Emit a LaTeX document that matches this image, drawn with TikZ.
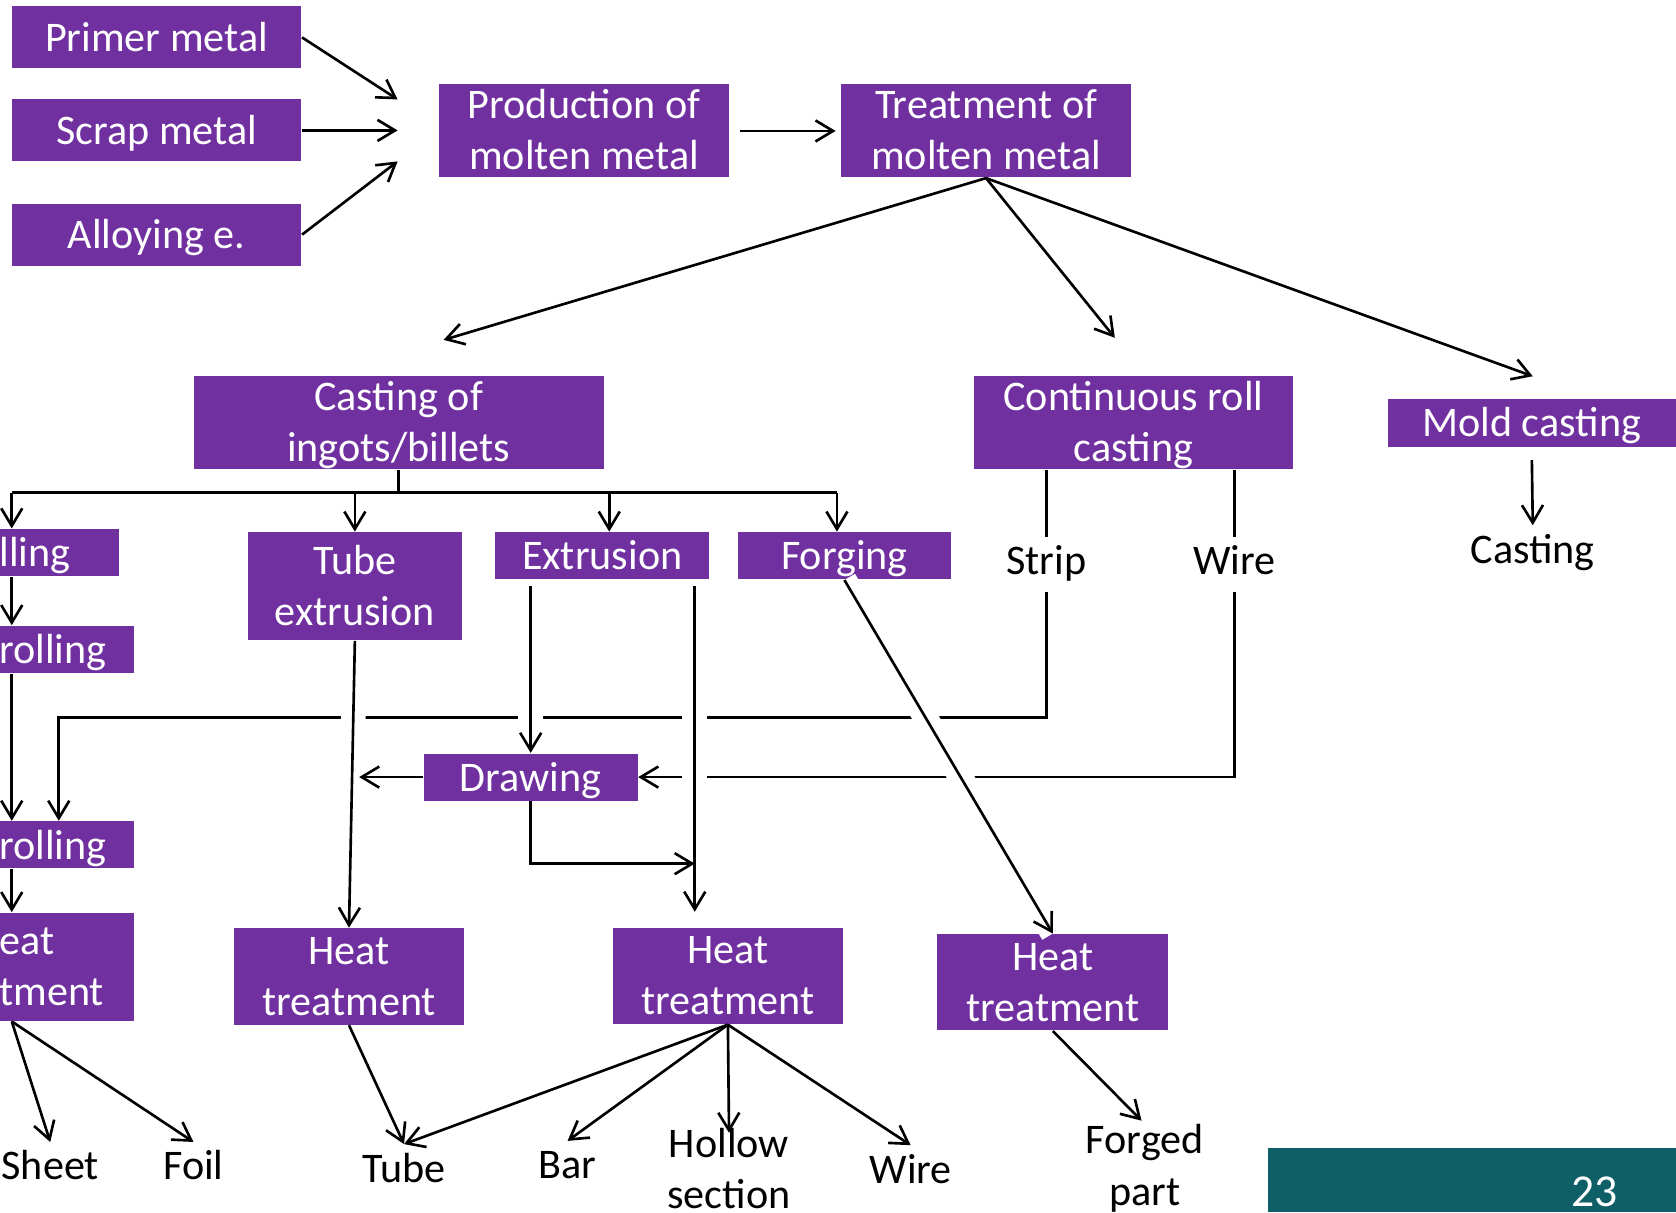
\documentclass[tikz,border=0pt]{standalone}
\usepackage{fontspec}
\setmainfont{Carlito}
\usepackage{xcolor}
\usepackage{tikz}
\usetikzlibrary{arrows.meta}
\definecolor{proc}{HTML}{7030A0}
\definecolor{footer}{HTML}{0F6066}
\tikzset{
  box/.style={fill=proc, text=white, align=center, inner sep=0pt, font=\fontsize{12}{14.6}\selectfont,
    text height=10.5pt, text depth=2.5pt},
  tall/.style={box, text height=24.3pt, text depth=2.1pt},
  inbox/.style={box, minimum width=2.897cm, minimum height=0.62cm},
  stage/.style={tall, minimum width=2.897cm, minimum height=0.93cm},
  small/.style={box, minimum width=2.138cm, minimum height=0.47cm},
  heat/.style={tall, minimum width=2.309cm, minimum height=0.962cm},
  cut/.style={box, anchor=east, align=left, inner xsep=0pt},
  lab/.style={text=black, align=center, inner sep=2pt, text height=8.6pt, text depth=2.6pt, font=\fontsize{12}{14.6}\selectfont},
  lab2/.style={text=black, align=center, inner sep=0pt, font=\fontsize{12}{14.6}\selectfont},
  conn/.style={draw=black, line width=0.75pt},
  arr/.style={conn, -{Straight Barb[length=5pt,width=6pt]}},
  gap/.style={preaction={draw=white, line width=7pt, arrows=-}}
}

\begin{document}
\begin{tikzpicture}[x=0.010689cm, y=-0.010689cm]
  \useasboundingbox (0,0) rectangle (1568,1134);

  % inputs and melting
  \node[inbox] (primer) at (146.5,35) {Primer metal};
  \node[inbox] (scrap) at (146.5,122) {Scrap metal};
  \node[inbox] (alloy) at (146.5,219.5) {Alloying e.};
  \node[stage] (prod) at (546.5,122.5) {Production of\\molten metal};
  \node[stage] (treat) at (922.5,122.5) {Treatment of\\molten metal};

  \node[tall, minimum width=4.105cm, minimum height=0.93cm] (cast) at (373,395.5) {Casting of\\ingots/billets};
  \node[tall, minimum width=3.196cm, minimum height=0.93cm] (cont) at (1060.5,395.5) {Continuous roll\\casting};
  \node[box, minimum width=2.886cm, minimum height=0.481cm] (mold) at (1433,395.5) {Mold casting};

  % rolling column, cut by the left edge
  \node[cut, text width=1.197cm, minimum height=0.47cm] (roll1) at (112,517) {lling};
  \node[cut, text width=1.347cm, minimum height=0.47cm] (roll2) at (126,607.5) {rolling};
  \node[cut, text width=1.347cm, minimum height=0.47cm] (roll3) at (126,790.5) {rolling};
  \node[cut, text height=9.7pt, text depth=16.7pt, text width=1.347cm, minimum height=1.08cm] (heat0) at (126,904.5) {eat\\tment};

  \node[tall, minimum width=2.138cm, minimum height=1.08cm] (tubex) at (332,548.5) {Tube\\extrusion};
  \node[small] (extr) at (563.5,520) {Extrusion};
  \node[small] (forge) at (790,520) {Forging};
  \node[small] (draw) at (496.5,727) {Drawing};

  \node[heat] (heat1) at (326.5,913.5) {Heat\\treatment};
  \node[heat] (heat2) at (681,913) {Heat\\treatment};
  \node[heat] (heat3) at (985,919) {Heat\\treatment};

  \node[lab] (strip) at (979,528) {Strip};
  \node[lab] (wire) at (1155,528) {Wire};
  \node[lab] (casting) at (1434,517) {Casting};

  \node[lab] (sheet) at (47,1094) {Sheet};
  \node[lab] (foil) at (181,1094) {Foil};
  \node[lab] (tube) at (378,1096) {Tube};
  \node[lab] (bar) at (531,1093) {Bar};
  \node[lab2] (hollow) at (682,1093) {Hollow\\section};
  \node[lab2] (forged) at (1071,1093) {Forged\\part};
  \node[lab] (wire2) at (852,1097) {Wire};

  \fill[footer] (1186,1074) rectangle (1568,1134);
  \node[text=white, inner sep=0pt, font=\fontsize{13}{15}\selectfont] (page) at (1492,1115) {23};

  \coordinate (in1) at (372,93);
  \coordinate (in2) at (372,122);
  \coordinate (in3) at (372,151);
  \coordinate (t1) at (415,318);
  \coordinate (t2) at (1043,316);
  \coordinate (t3) at (1434,352);
  \coordinate (busl) at (11,461);
  \coordinate (busx) at (570,461);
  \coordinate (busr) at (783,461);
  \coordinate (scol) at (55,671);
  \coordinate (exl) at (496.5,548);
  \coordinate (exr) at (650,548);
  \coordinate (exrend) at (650,853);
  \coordinate (dmeet) at (650,808);
  \coordinate (dleft) at (336,727);

  \draw[arr] (primer.east) -- (in1);
  \draw[arr] (scrap.east) -- (in2);
  \draw[arr] (alloy.east) -- (in3);
  \draw[arr, shorten <=1mm, shorten >=0.5mm] (prod) -- (treat);
  \draw[arr] (treat.south) -- (t1);
  \draw[arr] (treat.south) -- (t2);
  \draw[arr] (treat.south) -- (t3);

  % distribution line under the ingots
  \draw[conn] (cast.south) -- (cast.south |- busl);
  \draw[conn] (busl) -- (busr);
  \draw[arr] (busl) -- (busl |- roll1.north);
  \draw[arr] (tubex.north |- busl) -- (tubex.north);
  \draw[arr] (busx) -- (busx |- extr.north);
  \draw[arr] (busr) -- (busr |- forge.north);

  \draw[arr] (busl |- roll1.south) -- (busl |- roll2.north);
  \draw[arr] (busl |- roll2.south) -- (busl |- roll3.north);
  \draw[arr] (busl |- roll3.south) -- (busl |- heat0.north);

  \draw[conn] (cont.south -| strip) -- (strip.north);
  \draw[conn] (cont.south -| wire) -- (wire.north);
  \draw[arr] (strip.south) |- (scol) -- (scol |- roll3.north);
  \draw[arr] (wire.south) |- (draw.east);

  % lines that cross the two long runs
  \draw[arr, gap] (tubex.south) -- (heat1.north);
  \draw[arr, gap] (exl) -- (draw.north);
  \draw[arr, gap] (exr) -- (exrend);
  \draw[arr, gap] (forge.south) -- (heat3.north);

  \draw[arr] (draw.west) -- (dleft);
  \draw[arr] (draw.south) |- (dmeet);

  \draw[arr] (busl |- heat0.south) -- (sheet.north);
  \draw[arr] (busl |- heat0.south) -- (foil.north);
  \draw[arr] (heat1.south) -- (tube.north);
  \draw[arr] (heat2.south) -- (tube.north);
  \draw[arr] (heat2.south) -- (bar.north);
  \draw[arr, shorten >=-1.6pt] (heat2.south) -- (hollow.north);
  \draw[arr] (heat2.south) -- (wire2.north);
  \draw[arr, shorten >=1.3pt] (heat3.south) -- (forged.north);
  \draw[arr, shorten <=3.6pt] (mold.south) -- (casting.north);
\end{tikzpicture}
\end{document}
